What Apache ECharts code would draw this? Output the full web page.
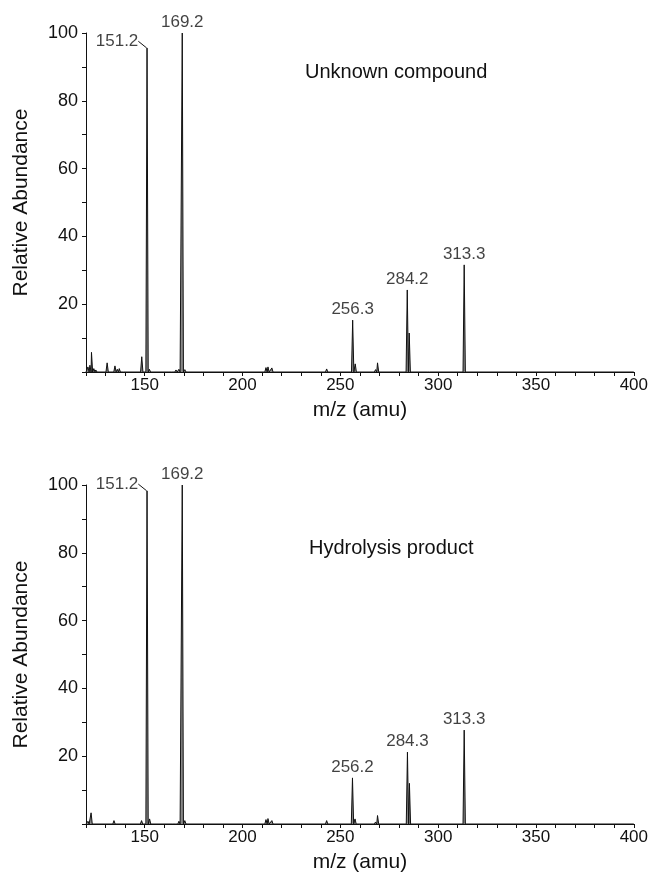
<!DOCTYPE html>
<html>
<head>
	<meta charset="utf-8">
	<title></title>
	<script src="https://cdn.jsdelivr.net/npm/echarts@6/dist/echarts.min.js"></script>
</head>
<body style="margin:0">
	<div id="main" style="width: 651px; height: 881px;"></div>
	<script>
		// peaks: [m/z, relative abundance]
		var unknownPeaks = [
			[121, 1.5], [122, 2], [122.8, 5.8], [124, 1], [125, 0.6],
			[130.8, 2.7], [134.8, 1.8], [136, 0.8], [137, 1], [138.5, 0.4],
			[148.5, 4.5], [151.2, 95.5], [152.4, 0.8], [163, 0.5], [166, 0.6], [167.5, 0.8],
			[169.2, 100], [170.5, 0.7], [172, 0.4], [212, 1.3], [213, 1.5], [215, 1.2],
			[243, 0.9], [256.3, 15.3], [257.6, 2.4], [268, 0.7], [269, 2.7],
			[284.2, 24.2], [285.2, 11.5], [295, 0.5], [313.3, 31.6]
		]
		var hydrolysisPeaks = [
			[121, 0.8], [122.6, 3.3], [124, 0.5], [134.3, 1], [148.4, 1],
			[151.2, 98.2], [152.5, 1.5], [165, 0.4], [167.5, 0.8],
			[169.2, 100], [170.5, 1], [212, 1.3], [213, 1.6], [215, 1],
			[243, 1], [256.2, 13.6], [257.5, 1.5], [268, 0.6], [269, 2.5],
			[284.3, 21.2], [285.3, 12], [313.3, 27.7]
		]
		var unknownLabels = [169.2, 256.3, 284.2, 313.3]
		var hydrolysisLabels = [169.2, 256.2, 284.3, 313.3]
		var leaderLabel = 151.2
		var xTicks = [150, 200, 250, 300, 350, 400]
		var yTicks = [20, 40, 60, 80, 100]

		var font = "Liberation Sans"
		var ink = "#111"

		function profile(peaks){
			var d = [[120, 0]]
			peaks.forEach(function(p){
				d.push([p[0] - 0.6, 0], [p[0], p[1]], [p[0] + 0.6, 0])
			})
			d.push([400, 0])
			return d
		}
		function pick(peaks, list){
			return peaks.filter(function(p){ return list.indexOf(p[0]) >= 0 })
		}

		function xAxis(i){
			return {
				gridIndex: i, type: "value", min: 120, max: 400, interval: 10,
				name: "m/z (amu)", nameLocation: "middle", nameGap: 28,
				nameTextStyle: { fontSize: 21, color: ink, fontFamily: font },
				axisLine: { lineStyle: { color: ink, width: 1 } },
				axisTick: { length: 4, lineStyle: { color: ink } },
				axisLabel: { fontSize: 17, color: ink, fontFamily: font, margin: 5,
					formatter: function(v){ return xTicks.indexOf(v) >= 0 ? v : "" } },
				splitLine: { show: false }
			}
		}
		function yAxis(i){
			return {
				gridIndex: i, type: "value", min: 0, max: 100, interval: 10,
				name: "Relative Abundance", nameLocation: "middle", nameGap: 54,
				nameTextStyle: { fontSize: 21, color: ink, fontFamily: font },
				axisLine: { show: true, lineStyle: { color: ink, width: 1 } },
				axisTick: { show: true, length: 4, lineStyle: { color: ink } },
				axisLabel: { fontSize: 18, color: ink, fontFamily: font, margin: 8,
					formatter: function(v){ return yTicks.indexOf(v) >= 0 ? v : "" } },
				splitLine: { show: false }
			}
		}
		function seriesFor(i, peaks, labels){
			var lbl = { show: true, position: "top", distance: 2, fontSize: 17, color: ink, fontFamily: font,
				formatter: function(p){ return p.value[0].toFixed(1) } }
			return [
				{ type: "line", xAxisIndex: i, yAxisIndex: i, data: profile(peaks), showSymbol: false,
					lineStyle: { color: ink, width: 1 }, areaStyle: { color: "#888", opacity: 1 }, silent: true },
				{ type: "scatter", xAxisIndex: i, yAxisIndex: i, data: pick(peaks, labels), symbolSize: 0, label: lbl },
				{ type: "scatter", xAxisIndex: i, yAxisIndex: i, data: pick(peaks, [leaderLabel]), symbolSize: 1,
					itemStyle: { color: ink }, label: lbl,
					labelLayout: { dx: -30, dy: 4 },
					labelLine: { show: true, lineStyle: { color: ink, width: 1 } } }
			]
		}

		var mCharts = echarts.init(document.getElementById("main"))
		var opt = {
			animation: false,
			textStyle: { fontFamily: font },
			title: [
				{ text: "Unknown compound", left: 305, top: 62, padding: 0,
					textStyle: { fontSize: 20, fontWeight: "normal", color: ink, fontFamily: font } },
				{ text: "Hydrolysis product", left: 309, top: 538, padding: 0,
					textStyle: { fontSize: 20, fontWeight: "normal", color: ink, fontFamily: font } }
			],
			grid: [
				{ left: 86, top: 33, width: 548, height: 339 },
				{ left: 86, top: 485, width: 548, height: 339 }
			],
			xAxis: [xAxis(0), xAxis(1)],
			yAxis: [yAxis(0), yAxis(1)],
			series: seriesFor(0, unknownPeaks, unknownLabels).concat(seriesFor(1, hydrolysisPeaks, hydrolysisLabels))
		}
		mCharts.setOption(opt)
	</script>
</body>
</html>
